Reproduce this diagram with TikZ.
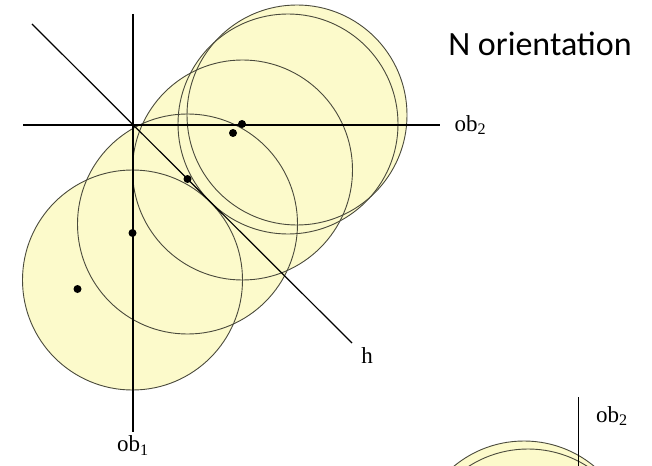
\documentclass[tikz,border=0pt]{standalone}
\usepackage{fontspec}
\setmainfont{Liberation Serif}
\newfontfamily\titlefont{Carlito}
\usetikzlibrary{positioning}
\definecolor{Disc}{HTML}{FCFACB}
\definecolor{Rim}{HTML}{4A4A3C}

\begin{document}
\begin{tikzpicture}[x=1pt, y=-1pt, every node/.style={font=\fontsize{23}{26}\selectfont}]
        \tikzstyle{rim}=[draw=Rim, line width=0.9pt]
        \tikzstyle{axis}=[line width=1.2pt]
        \tikzstyle{pt}=[circle, fill=black, inner sep=0pt, minimum size=8pt]
        \useasboundingbox (0,0) rectangle (652,465);
        \foreach \n/\x/\y in {1/132.5/280, 2/187.5/224, 3/242.5/170, 4/288/124, 5/297/115}
          \coordinate (c\n) at (\x,\y);
        \foreach \n in {1,...,5} \fill[Disc] (c\n) circle (110);
        \foreach \n in {1,...,5} \draw[rim] (c\n) circle (110);
        \foreach \n in {1,...,5} \node[pt] (d\n) at ([shift={(-55,9)}]c\n) {};
        \coordinate (xl) at (23,125);
        \coordinate (xr) at (440,125);
        \coordinate (yt) at (133,14);
        \coordinate (yb) at (133,432);
        \coordinate (hl) at (32,24);
        \coordinate (hr) at (352,343);
        \draw[axis] (xl) -- (xr);
        \draw[axis] (yt) -- (yb);
        \draw[axis] (hl) -- (hr);
        \node[right=11pt of xr] (ob2) {ob\textsubscript{2}};
        \node[below=0pt of yb] (ob1) {ob\textsubscript{1}};
        \node (h) at (367,356) {h};
        \node (title) at (540,44) {\titlefont\fontsize{34}{38}\selectfont N orientation};
        \begin{scope}
          \clip (0,0) rectangle (652,465);
          \coordinate (e1) at (524,551);
          \coordinate (e2) at (528,559);
          \fill[Disc] (e1) circle (110);
          \fill[Disc] (e2) circle (110);
          \draw[rim] (e1) circle (110);
          \draw[rim] (e2) circle (110);
          \coordinate (vt) at (578,397);
          \coordinate (vb) at (578,470);
          \draw[line width=1pt] (vt) -- (vb);
        \end{scope}
        \node (ob2b) at (612,416) {ob\textsubscript{2}};
      \end{tikzpicture}
\end{document}
